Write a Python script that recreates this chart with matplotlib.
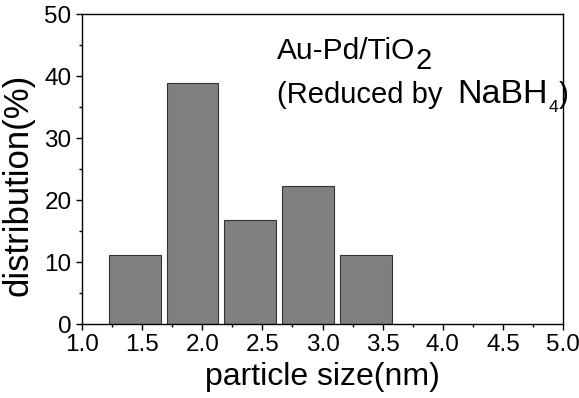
import matplotlib
matplotlib.use('Agg')
import matplotlib.pyplot as plt
from matplotlib.ticker import MultipleLocator

plt.rcParams['font.family'] = ['Liberation Sans', 'DejaVu Sans']

# particle size histogram (bin centres in nm, share in %)
sizes = [1.44, 1.92, 2.40, 2.88, 3.36]
distribution = [11.1, 38.9, 16.7, 22.2, 11.1]
BAR_WIDTH = 0.43

fig = plt.figure(figsize=(5.79, 3.98), dpi=100)
ax = fig.add_axes([0.1416, 0.1859, 0.8308, 0.7789])

ax.bar(sizes, distribution, width=BAR_WIDTH, color='#808080',
       edgecolor='#333333', linewidth=0.8)

ax.set_xlim(1.0, 5.0)
ax.set_ylim(0, 50)
ax.xaxis.set_major_locator(MultipleLocator(0.5))
ax.xaxis.set_minor_locator(MultipleLocator(0.25))
ax.yaxis.set_major_locator(MultipleLocator(10))
ax.yaxis.set_minor_locator(MultipleLocator(5))
ax.tick_params(which='major', direction='out', length=4, width=1,
               labelsize=17.5, pad=3.5)
ax.tick_params(which='minor', direction='out', length=2.5, width=1)
for sp in ax.spines.values():
    sp.set_linewidth(1)

ax.set_xlabel('particle size(nm)', fontsize=23, labelpad=4)
ax.set_ylabel('distribution(%)', fontsize=25)
ax.yaxis.set_label_coords(-0.098, 0.45)

# annotation, built from pieces so the subscripts can be sized freely
t1 = ax.text(0.405, 0.855, 'Au-Pd/TiO', transform=ax.transAxes,
             fontsize=21.5, va='baseline')
ax.annotate('2', xy=(1, 0.855), xycoords=(t1, 'axes fraction'),
            xytext=(0.5, -7.5), textcoords='offset points',
            fontsize=21, va='baseline')

t2 = ax.text(0.405, 0.713, '(Reduced by', transform=ax.transAxes,
             fontsize=21, va='baseline')
t3 = ax.annotate('NaBH', xy=(1, 0.713), xycoords=(t2, 'axes fraction'),
                 xytext=(11, 0), textcoords='offset points',
                 fontsize=24.5, va='baseline')
t4 = ax.annotate('4', xy=(1, 0.713), xycoords=(t3, 'axes fraction'),
                 xytext=(0.5, -6.5), textcoords='offset points',
                 fontsize=12.5, va='baseline')
ax.annotate(')', xy=(1, 0.713), xycoords=(t4, 'axes fraction'),
            xytext=(0.5, 0), textcoords='offset points',
            fontsize=21, va='baseline', annotation_clip=False)

fig.savefig('out.png', dpi=100)
